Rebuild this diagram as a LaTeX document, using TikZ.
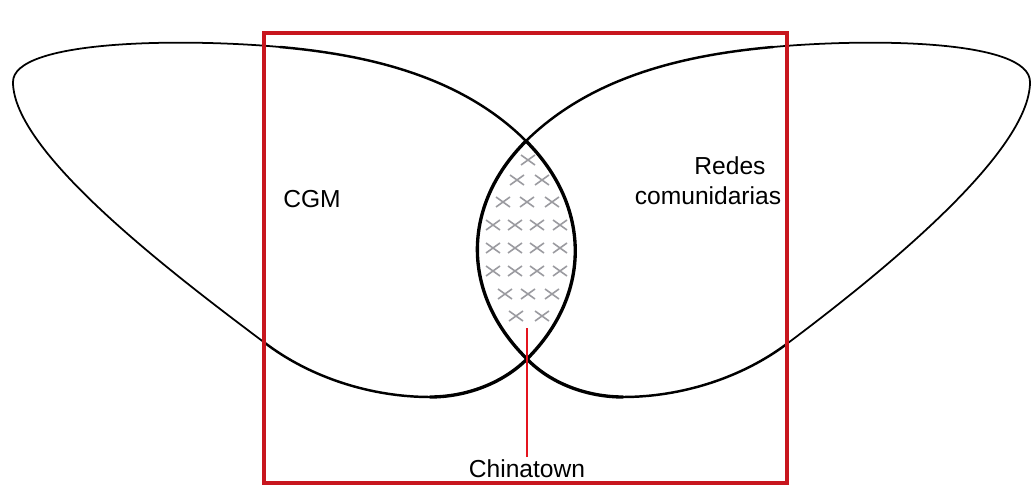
\documentclass[tikz,border=0pt]{standalone}
\usepackage{fontspec}
\setmainfont{Liberation Sans}
\definecolor{boxred}{RGB}{200,22,30}
\definecolor{leadred}{RGB}{228,20,30}
\definecolor{hatchgray}{RGB}{155,155,160}
\tikzset{
  thinloop/.style={line width=1.0pt,line cap=round},
  midloop/.style={line width=1.4pt,line cap=round},
  thickloop/.style={line width=1.9pt,line cap=round},
  hatchmark/.style={hatchgray,line width=0.9pt},
  setlabel/.style={font=\fontsize{14}{17}\selectfont,inner sep=1pt},
}
\begin{document}
\begin{tikzpicture}[x=0.02cm,y=-0.02cm]
  \useasboundingbox (0,0) rectangle (1034,486);
  \coordinate (T) at (526,141);
  \coordinate (B) at (527,359);
  \draw[thickloop] (T) .. controls (591,206) and (592,294) .. (B);
  \draw[thickloop] (B) .. controls (502,384) and (465,397) .. (430,397);
  \draw[midloop] (430,397) .. controls (372,397) and (311,378) .. (265,343);
  \draw[thinloop] (265,343) .. controls (169,271) and (13,152) .. (13,82)
    .. controls (13,40) and (180,38) .. (280,47);
  \draw[midloop] (280,47) .. controls (370,55) and (462,77) .. (T);
  \draw[thickloop] (T) .. controls (461,206) and (461,294) .. (B);
  \draw[thickloop] (B) .. controls (551,384) and (588,397) .. (623,397);
  \draw[midloop] (623,397) .. controls (681,397) and (742,378) .. (788,343);
  \draw[thinloop] (788,343) .. controls (884,271) and (1030,152) .. (1030,82)
    .. controls (1030,40) and (873,38) .. (773,47);
  \draw[midloop] (773,47) .. controls (683,55) and (591,77) .. (T);
  \foreach \x/\y in {528/160, 517/180, 542/180, 503/202, 527/202, 552/202,
      493/225, 515/225, 537/225, 560/225, 493/248, 515/248, 537/248, 560/248,
      493/271, 515/271, 537/271, 560/271, 505/294, 528/294, 552/294,
      516/316, 542/316}
    \draw[hatchmark] (\x-7,\y-5) -- (\x+7,\y+5) (\x-7,\y+5) -- (\x+7,\y-5);
  \draw[boxred,line width=2pt] (264,33) rectangle (787,483);
  \node[setlabel,anchor=base] (cgm) at (312,208) {CGM};
  \node[setlabel,align=center] (redes) at (708,181) {\hspace*{25pt}Redes\\comunidarias};
  \node[setlabel,anchor=base] (chinatown) at (527,477) {Chinatown};
  \coordinate (chinlead) at (527,328);
  \draw[leadred,line width=1.1pt] (chinatown) -- (chinlead);
\end{tikzpicture}
\end{document}
